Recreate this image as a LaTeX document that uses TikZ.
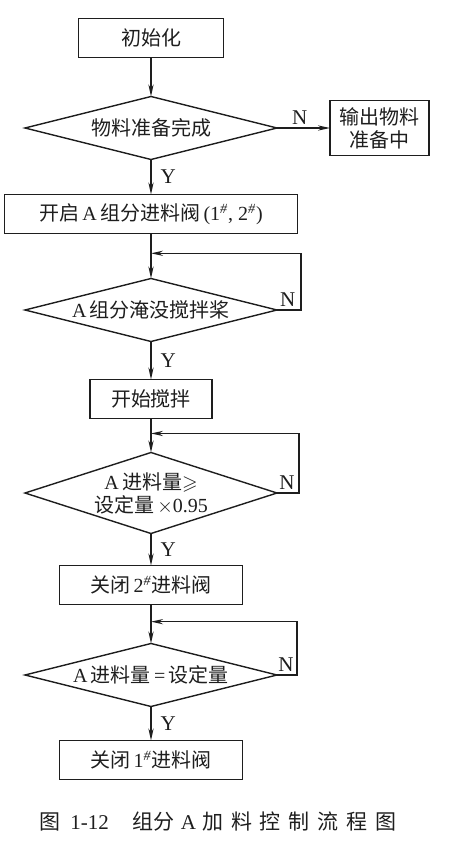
\documentclass[tikz,border=0pt]{standalone}
\usepackage{fontspec}
\usepackage{amssymb}
\usepackage{tikz}
\setmainfont{Liberation Serif}
\newfontfamily\zh{Noto Sans CJK SC}
\newfontfamily\zhcap[LetterSpace=38]{Noto Sans CJK SC}
\usetikzlibrary{shapes.geometric, arrows.meta, positioning, calc}
\definecolor{flowink}{HTML}{1e1e1e}

\begin{document}
\begin{tikzpicture}[
    node distance=18pt and 20pt,
    every node/.style={font=\zh\fontsize{10pt}{11.5pt}\selectfont, text=flowink},
    process/.style={rectangle, draw=flowink, line width=0.7pt, minimum height=19.5pt, inner sep=2pt, outer sep=0pt, align=center},
    decision/.style={diamond, draw=flowink, line width=0.7pt, aspect=4, inner sep=0pt, outer sep=0pt, minimum width=126pt, minimum height=31.5pt, align=center},
    arrow/.style={-{Stealth[length=6pt, width=2.6pt]}, line width=0.7pt, flowink},
    tag/.style={font=\rmfamily\fontsize{10.5pt}{12pt}\selectfont, inner sep=1.5pt}
]
\useasboundingbox (0,0) rectangle (225pt,-426pt);

% Row 1: start and material check
\node[process, minimum width=72.5pt] (init) at (75.5pt,-19pt) {初始化};
\node[decision, below=19.5pt of init] (ready) {物料准备完成};
\node[process, right=26.5pt of ready, minimum width=49.5pt, minimum height=27.5pt] (waitmsg) {输出物料\\准备中};

% Row 2: open valves, wait for paddle
\node[process, below=17.5pt of ready, minimum width=146.5pt] (openvalve) {开启\,\textrm{A}\,组分进料阀\,\textrm{(1\textsuperscript{\itshape\#}, 2\textsuperscript{\itshape\#})}};
\node[decision, below=22.5pt of openvalve] (submerged) {\textrm{A}\,组分淹没搅拌桨};
\node[process, below=19pt of submerged, minimum width=61pt] (stir) {开始搅拌};

% Row 3: feed amount checks
\node[decision, below=17pt of stir, aspect=3, minimum height=40.5pt] (reach95) {\textrm{A}\,进料量$\geqslant$\\设定量\,$\times$\textrm{0.95}};
\node[process, below=16pt of reach95, minimum width=91.5pt] (closetwo) {关闭\,\textrm{2\textsuperscript{\itshape\#}}进料阀};
\node[decision, below=19.5pt of closetwo] (reachall) {\textrm{A}\,进料量\,\textrm{=}\,设定量};
\node[process, below=17pt of reachall, minimum width=91.5pt] (closeone) {关闭\,\textrm{1\textsuperscript{\itshape\#}}进料阀};

% Caption
\node[anchor=west, inner sep=0pt, font=\zh\fontsize{10.5pt}{12pt}\selectfont] (caption) at (19.5pt,-411pt) {图\hspace{5pt}\textrm{1-12}\hspace{12pt}组分\hspace{3pt}\textrm{A}\hspace{3pt}{\zhcap 加料控制流程图}};

% Loop junctions
\coordinate (j1) at ($(openvalve.south)!0.44!(submerged.north)$);
\coordinate (j2) at ($(stir.south)!0.44!(reach95.north)$);
\coordinate (j3) at ($(closetwo.south)!0.44!(reachall.north)$);

% Main flow
\draw[arrow] (init) -- (ready);
\draw[arrow] (ready) -- node[tag, above, pos=0.43]{N} (waitmsg);
\draw[arrow] (ready) -- node[tag, right=3pt, midway]{Y} (openvalve);
\draw[arrow] (openvalve) -- (submerged);
\draw[arrow] (submerged) -- node[tag, right=3pt, midway]{Y} (stir);
\draw[arrow] (stir) -- (reach95);
\draw[arrow] (reach95) -- node[tag, right=3pt, midway]{Y} (closetwo);
\draw[arrow] (closetwo) -- (reachall);
\draw[arrow] (reachall) -- node[tag, right=3pt, midway]{Y} (closeone);

% Wait loops
\draw[arrow] (submerged.east) -- node[tag, above, pos=0.45]{N} ++(12pt,0) |- (j1);
\draw[arrow] (reach95.east) -- node[tag, above, pos=0.45]{N} ++(11pt,0) |- (j2);
\draw[arrow] (reachall.east) -- node[tag, above, pos=0.45]{N} ++(10pt,0) |- (j3);

\end{tikzpicture}
\end{document}
